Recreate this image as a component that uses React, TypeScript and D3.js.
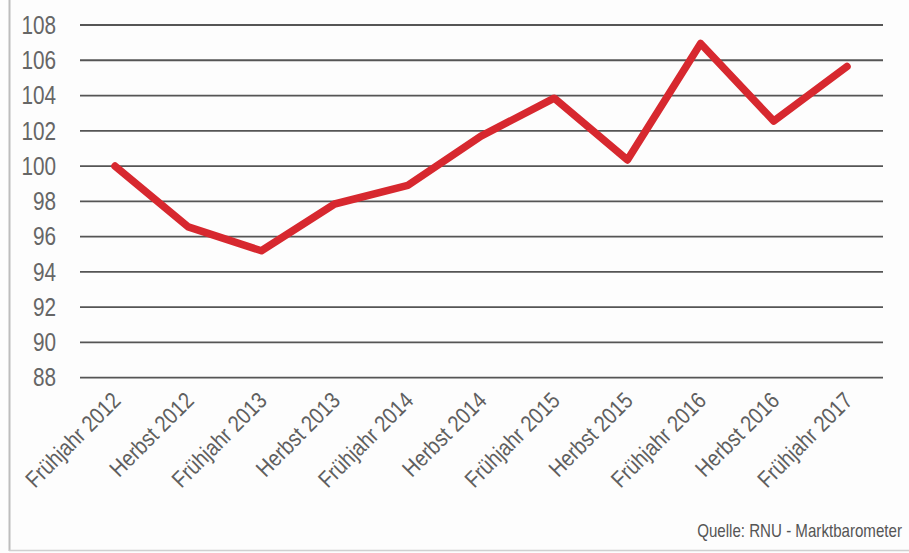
import React from "react";
import * as d3 from "d3";

const categories: string[] = [
  "Frühjahr 2012", "Herbst 2012", "Frühjahr 2013", "Herbst 2013", "Frühjahr 2014",
  "Herbst 2014", "Frühjahr 2015", "Herbst 2015", "Frühjahr 2016", "Herbst 2016", "Frühjahr 2017",
];
const values: number[] = [100, 96.55, 95.2, 97.85, 98.9, 101.7, 103.85, 100.35, 106.95, 102.55, 105.65];
const yTicks: number[] = [88, 90, 92, 94, 96, 98, 100, 102, 104, 106, 108];
const sourceText = "Quelle: RNU - Marktbarometer";

const W = 909;
const H = 553;
const FONT = "'Liberation Sans Narrow', 'Arial Narrow', 'Liberation Sans', sans-serif";

export default function App() {
  const x = d3.scalePoint<string>().domain(categories).range([115, 847]);
  const y = d3.scaleLinear().domain([88, 108]).range([377.7, 25]);
  const line = d3
    .line<number>()
    .x((_, i) => x(categories[i]) as number)
    .y((d) => y(d));

  return (
    <svg
      width={W}
      height={H}
      style={{ position: "absolute", left: 0, top: 0, background: "#fff" }}
    >
      <rect x={0} y={0} width={W} height={H} fill="#fdfdfd" />
      {/* frame */}
      <line x1={9.5} x2={9.5} y1={0} y2={551} stroke="#bdbdbd" strokeWidth={2} />
      <line x1={9} x2={W} y1={550.5} y2={550.5} stroke="#d0d0d0" strokeWidth={1.5} />

      {yTicks.map((t) => (
        <g key={t}>
          <line x1={80} x2={883} y1={y(t)} y2={y(t)} stroke="#555" strokeWidth={1.8} />
          <text
            transform={`translate(56 ${y(t)}) scale(0.83 1)`}
            textAnchor="end"
            dominantBaseline="central"
            fontFamily={FONT}
            fontSize={25}
            fill="#666"
          >
            {t}
          </text>
        </g>
      ))}

      {categories.map((c) => {
        const px = (x(c) as number) + 7;
        const py = 402;
        return (
          <text
            key={c}
            transform={`translate(${px} ${py}) rotate(-45) scale(0.86 1)`}
            textAnchor="end"
            fontFamily={FONT}
            fontSize={23}
            fill="#5f5f5f"
          >
            {c}
          </text>
        );
      })}

      <path
        d={line(values) as string}
        fill="none"
        stroke="#d7282f"
        strokeWidth={7.5}
        strokeLinejoin="round"
        strokeLinecap="round"
      />

      <text
        transform="translate(902 537) scale(0.84 1)"
        textAnchor="end"
        fontFamily={FONT}
        fontSize={18}
        fill="#555"
      >
        {sourceText}
      </text>
    </svg>
  );
}
